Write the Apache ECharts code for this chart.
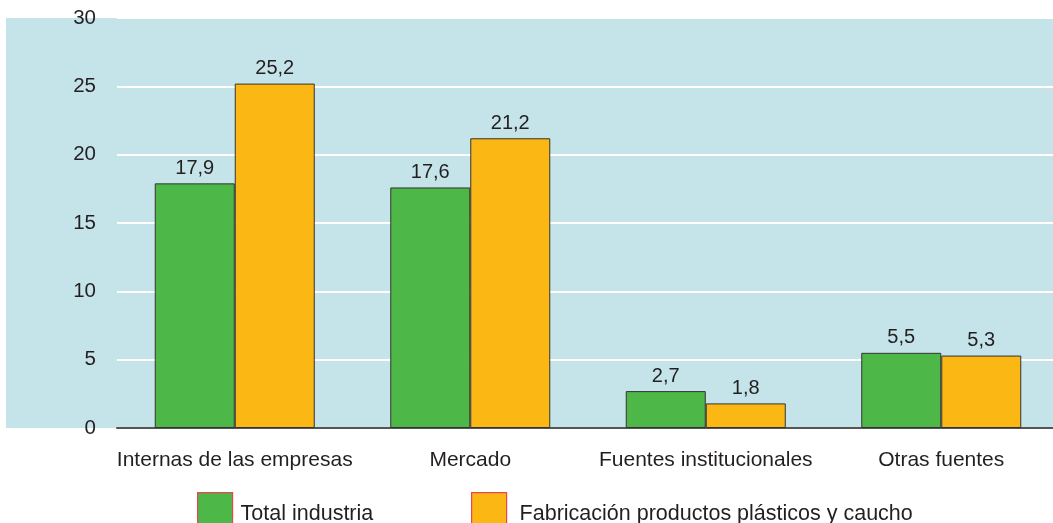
<!DOCTYPE html>
<html>
<head>
<meta charset="utf-8">
<script src="https://cdn.jsdelivr.net/npm/echarts@6/dist/echarts.min.js"></script>
<style>html,body{margin:0;padding:0;background:#fff;}#c{width:1053px;height:523px;}</style>
</head>
<body>
<div id="c"></div>
<script>
var categories = ['Internas de las empresas', 'Mercado', 'Fuentes institucionales', 'Otras fuentes'];
var seriesNames = ['Total industria', 'Fabricación productos plásticos y caucho'];
var totalIndustria = [17.9, 17.6, 2.7, 5.5];
var plasticos = [25.2, 21.2, 1.8, 5.3];
var yTicks = [0, 5, 10, 15, 20, 25, 30];

var chart = echarts.init(document.getElementById('c'), null, {renderer: 'canvas'});
var font = 'Liberation Sans, Arial, Helvetica, sans-serif';
function fmt(p) { return p.value.toFixed(1).replace('.', ','); }
var labelStyle = {show: true, position: 'top', distance: 5, formatter: fmt, color: '#231f20', fontSize: 20, fontFamily: font};

function legendItem(left, name, padLeft) {
  return {
    left: left, top: 487, itemWidth: 35, itemHeight: 42, itemGap: 8, icon: 'rect',
    data: [{name: name, itemStyle: {borderColor: '#e4474f', borderWidth: 1.2}}],
    textStyle: {fontSize: 21.5, fontFamily: font, color: '#231f20', padding: [9, 0, 0, padLeft]},
    selectedMode: false
  };
}

chart.setOption({
  backgroundColor: '#fff',
  animation: false,
  graphic: [{
    type: 'rect', z: -10, silent: true,
    shape: {x: 6, y: 18, width: 1047, height: 410},
    style: {fill: '#c5e4ea'}
  }],
  grid: {left: 117, width: 942, top: 18, height: 410, containLabel: false, outerBoundsMode: 'none'},
  legend: [legendItem(192, seriesNames[0], 3), legendItem(466, seriesNames[1], 8)],
  xAxis: {
    type: 'category', data: categories,
    axisLine: {show: true, lineStyle: {color: '#555', width: 2}},
    axisTick: {show: false},
    axisLabel: {interval: 0, margin: 22, fontSize: 21, fontFamily: font, color: '#231f20'}
  },
  yAxis: {
    type: 'value', min: yTicks[0], max: yTicks[yTicks.length - 1], interval: 5,
    axisLine: {show: false}, axisTick: {show: false},
    splitLine: {show: true, lineStyle: {color: '#ffffff', width: 2}},
    axisLabel: {margin: 21, fontSize: 20.5, fontFamily: font, color: '#231f20'}
  },
  series: [{
    name: seriesNames[0], type: 'bar', data: totalIndustria, barWidth: 80, barGap: '0%',
    itemStyle: {color: '#4db848', borderColor: '#333', borderWidth: 1},
    label: labelStyle
  }, {
    name: seriesNames[1], type: 'bar', data: plasticos, barWidth: 80, barGap: '0%',
    itemStyle: {color: '#fbb713', borderColor: '#333', borderWidth: 1},
    label: labelStyle
  }]
});
</script>
</body>
</html>
